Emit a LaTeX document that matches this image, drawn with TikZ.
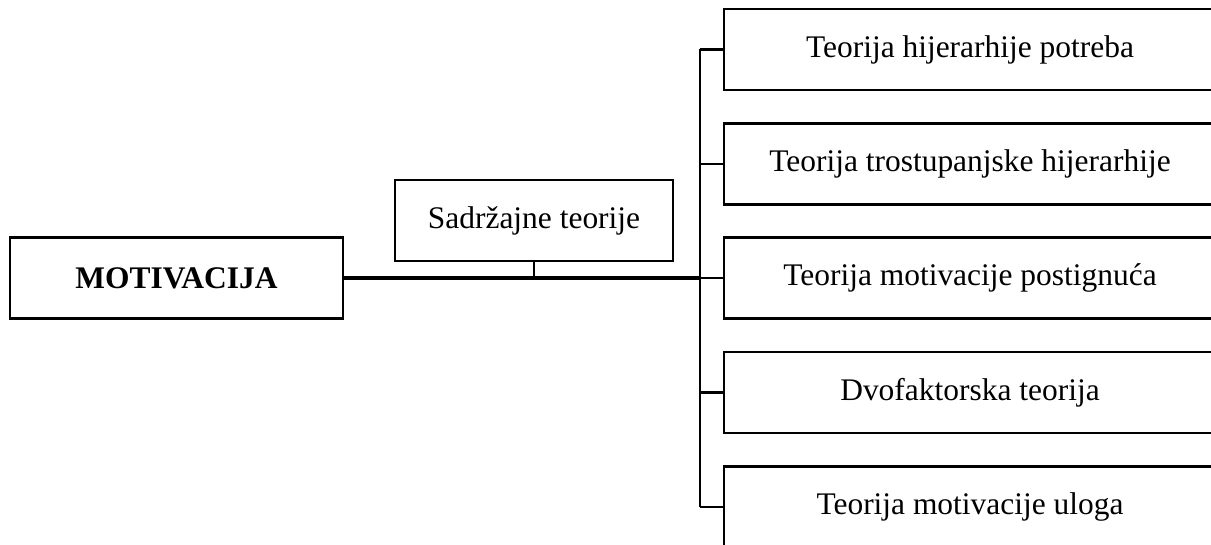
\documentclass[tikz,border=0pt]{standalone}
\usepackage{fontspec}
\setmainfont{Liberation Serif}
\usetikzlibrary{positioning}

\tikzset{
  box/.style={draw, line width=1.4pt, minimum height=1.62cm, inner sep=0pt,
    font=\fontsize{17.9}{21}\selectfont},
  theory/.style={box, minimum width=9.84cm},
  link/.style={line width=1.3pt},
  mainlink/.style={line width=2pt}
}

\begin{document}
\begin{tikzpicture}
  \useasboundingbox (0,0) rectangle (24.22,10.88);

  \node[box, minimum width=6.66cm] (mot) at (3.53,5.32) {\textbf{MOTIVACIJA}};
  \node[box, minimum width=5.56cm] (sad) at (10.68,6.47) {Sadržajne teorije};

  \node[theory] (thp) at (19.4,9.89) {Teorija hijerarhije potreba};
  \node[theory] (tth) at (19.4,7.60) {Teorija trostupanjske hijerarhije};
  \node[theory] (tmp) at (19.4,5.32) {Teorija motivacije postignuća};
  \node[theory] (dft) at (19.4,3.03) {Dvofaktorska teorija};
  \node[theory] (tmu) at (19.4,0.74) {Teorija motivacije uloga};

  \coordinate (hub) at (14,5.32);

  % main branch
  \draw[mainlink] (mot.east) -- (hub);
  \draw[link] (sad.south) -- (sad.south |- hub);

  % bus to the theories
  \draw[link] (hub |- thp.west) -- (hub |- tmu.west);
  \draw[link] (hub |- thp.west) -- (thp.west);
  \draw[link] (hub |- tth.west) -- (tth.west);
  \draw[link] (hub |- tmp.west) -- (tmp.west);
  \draw[link] (hub |- dft.west) -- (dft.west);
  \draw[link] (hub |- tmu.west) -- (tmu.west);
\end{tikzpicture}
\end{document}
